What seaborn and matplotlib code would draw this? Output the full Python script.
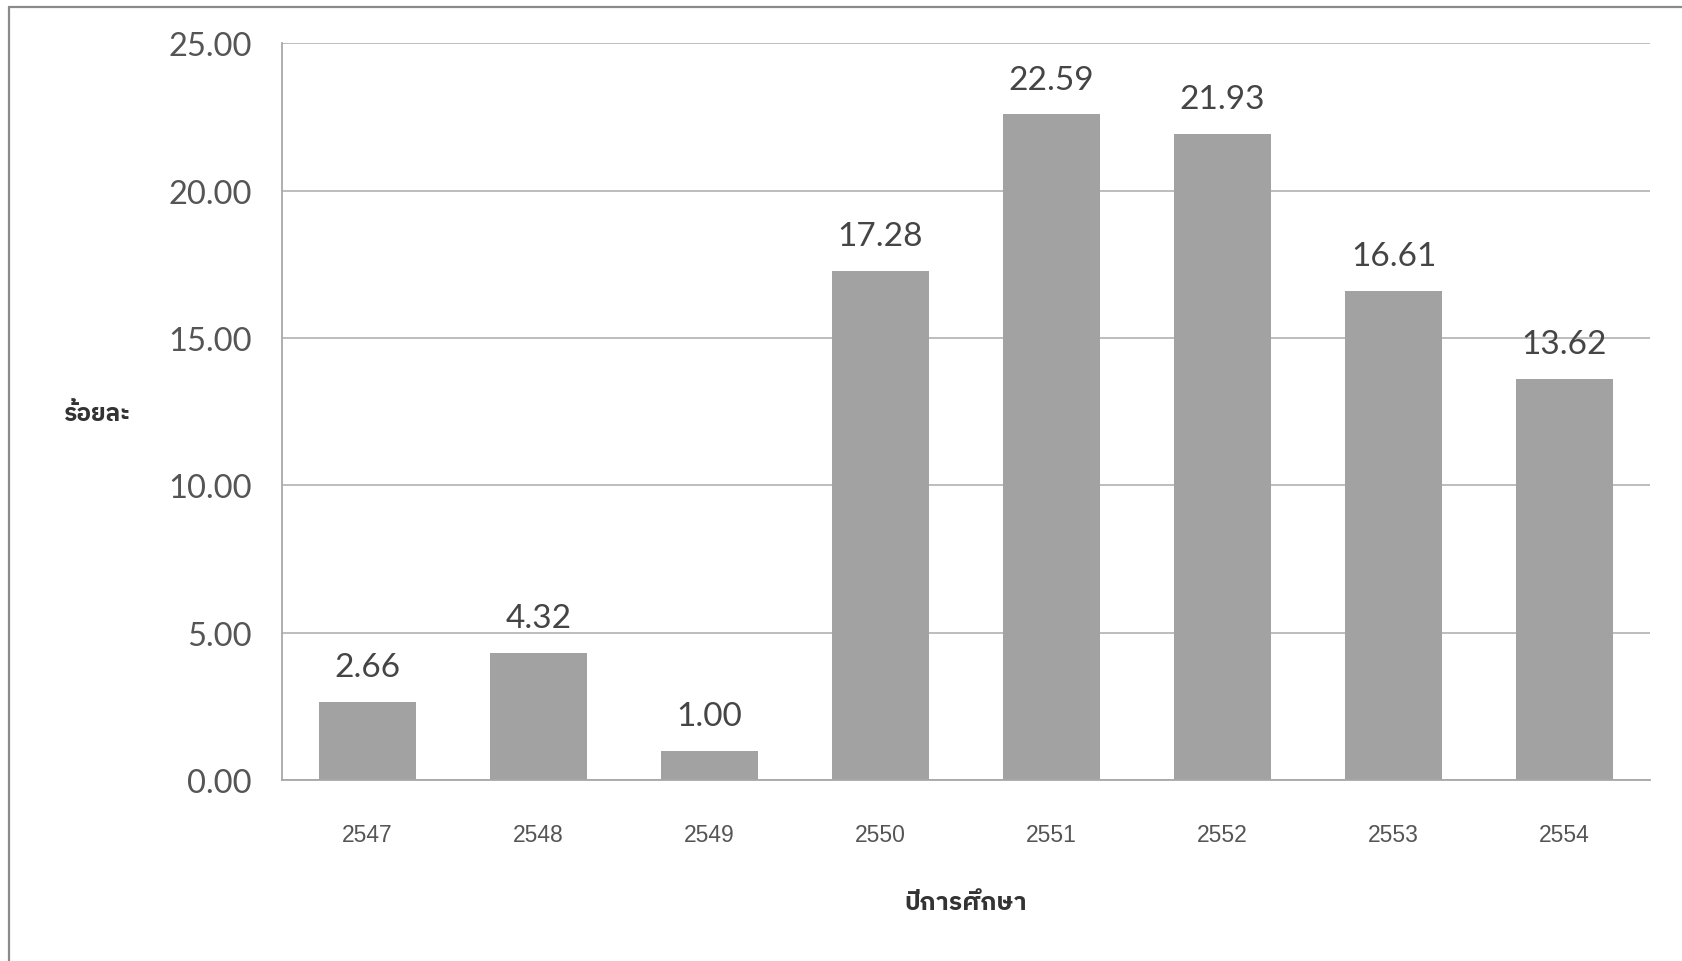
import matplotlib
matplotlib.use("Agg")
import matplotlib.pyplot as plt
import seaborn as sns
import pandas as pd
from matplotlib import font_manager as fm
from matplotlib.lines import Line2D

# ---- data ----
years = ["2547", "2548", "2549", "2550", "2551", "2552", "2553", "2554"]
values = [2.66, 4.32, 1.00, 17.28, 22.59, 21.93, 16.61, 13.62]
y_ticks = [0, 5, 10, 15, 20, 25]
y_label = "ร้อยละ"
x_label = "ปีการศึกษา"


def thai_fonts():
    found = []
    try:
        from fontTools.ttLib import TTFont
    except Exception:
        return found
    for f in fm.fontManager.ttflist:
        try:
            tt = TTFont(f.fname, fontNumber=0, lazy=True)
            cmap = tt.getBestCmap()
            if cmap and 0x0E1B in cmap and 0x0E35 in cmap and 0x0E23 in cmap:
                found.append(f.name)
        except Exception:
            pass
    return found


sns.set_theme(style="white")
tf = thai_fonts()
pref = sorted(set(tf), key=lambda n: (("Thai" not in n), ("Sans" not in n), n))
thai_family = pref[:1] + ["DejaVu Sans"]
plt.rcParams['font.family'] = ["Lato", "DejaVu Sans"]

fig = plt.figure(figsize=(16.82, 9.62), dpi=100)
fig.patch.set_facecolor("white")
ax = fig.add_axes([0.1677, 0.188, 0.8133, 0.766])

df = pd.DataFrame({"year": years, "value": values})
sns.barplot(data=df, x="year", y="value", color="#a2a2a2", saturation=1,
            width=0.565, edgecolor="none", ax=ax)

ax.set_ylim(0, 25)
ax.set_xlim(-0.5, len(years) - 0.5)
ax.set_yticks(y_ticks)
ax.set_yticklabels([f"{v:.2f}" for v in y_ticks], fontsize=23.5, color="#555555",
                   family=["Lato", "DejaVu Sans"])
ax.set_xticks(range(len(years)))
ax.set_xticklabels(years, fontsize=16.5, color="#555555",
                   family=["Liberation Sans", "DejaVu Sans"])
ax.tick_params(axis="y", length=0, pad=22)
ax.tick_params(axis="x", length=0, pad=31)
ax.set_xlabel("")
ax.set_ylabel("")

ax.grid(axis="y", color="#b8b8b8", linewidth=1.3)
ax.grid(axis="x", visible=False)
ax.set_axisbelow(True)
for s in ["top", "right"]:
    ax.spines[s].set_visible(False)
for s in ["left", "bottom"]:
    ax.spines[s].set_color("#a8a8a8")
    ax.spines[s].set_linewidth(1.3)

ax.bar_label(ax.containers[0], fmt="%.2f", padding=14, fontsize=24,
             color="#454545", family=["Lato", "DejaVu Sans"])

fig.text(0.0577, 0.5695, y_label, ha="center", va="center", fontsize=17.5,
         fontweight="bold", color="#333333", family=thai_family)
fig.text(0.574, 0.0615, x_label, ha="center", va="center", fontsize=18,
         fontweight="bold", color="#333333", family=thai_family)

# scan frame (left and top edges)
fig.add_artist(Line2D([0.0055, 0.0055], [0.0, 0.992], transform=fig.transFigure,
                      color="#8a8a8a", linewidth=1.6))
fig.add_artist(Line2D([0.0055, 1.0], [0.992, 0.992], transform=fig.transFigure,
                      color="#8a8a8a", linewidth=1.6))

fig.savefig("out.png", dpi=100, facecolor="white")
